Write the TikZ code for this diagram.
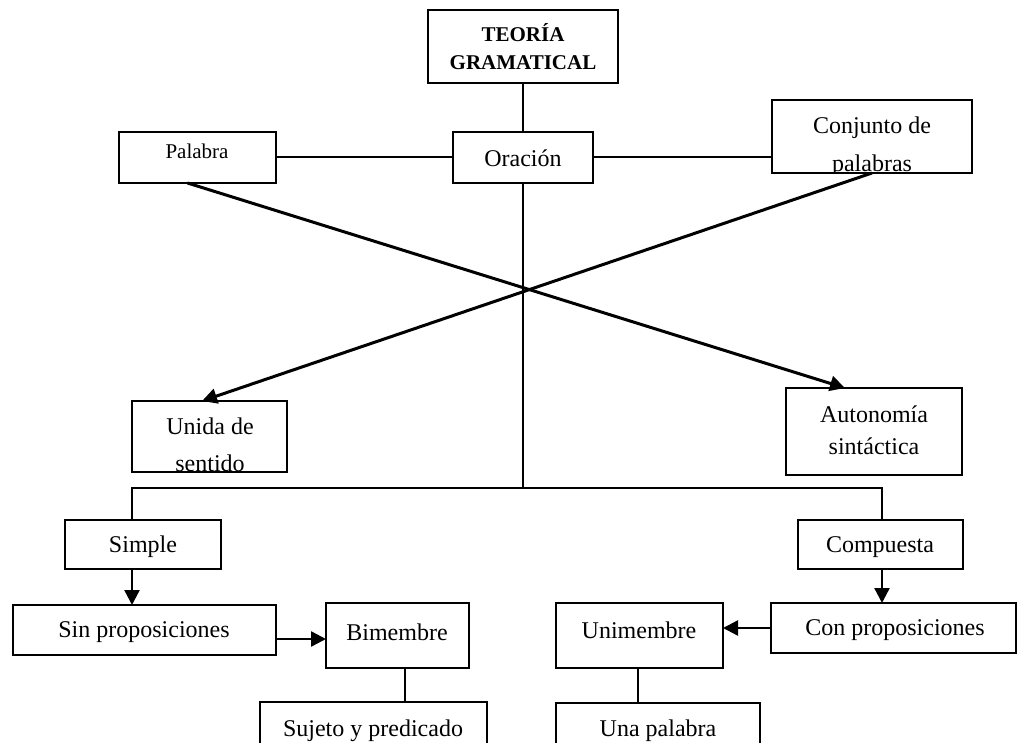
\documentclass[tikz,border=0pt]{standalone}
\usepackage{fontspec}
\setmainfont{Liberation Serif}
\usetikzlibrary{arrows.meta,calc}
\tikzset{
  boxshape/.style={draw, line width=2pt, rectangle, inner sep=0pt, outer sep=0pt},
  txt/.style={inner sep=0pt, font=\fontsize{24}{32}\selectfont, align=center},
  link/.style={line width=2pt},
  diag/.style={line width=3pt, -{Triangle[length=15pt,width=15pt]}},
  arr/.style={line width=2.4pt, -{Triangle[length=15pt,width=15pt]}},
}
\newcommand{\mybox}[5]{%
  \node[boxshape, minimum width={(#4)-(#2)}, minimum height={(#5)-(#3)}] (#1) at ({((#2)+(#4))/2},{((#3)+(#5))/2}) {};}
\begin{document}
\begin{tikzpicture}[x=1pt,y=-1pt]
\useasboundingbox (0,0) rectangle (1017,743);
\clip (0,0) rectangle (1017,743);
\fill[white] (0,0) rectangle (1017,743);

% boxes
\mybox{teo}{428}{10}{618}{83}
\mybox{ora}{453}{132}{593}{183}
\mybox{pal}{119}{132}{276}{183}
\mybox{con}{772}{100}{972}{173}
\mybox{uni}{132}{401}{287}{472}
\mybox{aut}{786}{388}{962}{475}
\mybox{sim}{65}{520}{221}{569}
\mybox{com}{798}{520}{963}{569}
\mybox{sin}{13}{605}{276}{655}
\mybox{bim}{326}{603}{469}{668}
\mybox{suj}{260}{702}{487}{790}
\mybox{unim}{556}{603}{723}{668}
\mybox{conp}{771}{603}{1016}{653}
\mybox{una}{556}{703}{760}{790}

% texts
\node[txt, font=\fontsize{21}{28}\selectfont\bfseries] (teot) at (teo.center) {TEORÍA\\GRAMATICAL};
\node[txt] (orat) at (523,158) {Oración};
\node[txt, font=\fontsize{21}{26}\selectfont] (palt) at (197,151) {Palabra};
\begin{scope}
  \clip (con.north west) rectangle (con.south east);
  \node[txt, font=\fontsize{24}{38}\selectfont, anchor=north] (cont) at (872,117) {Conjunto de\\palabras};
\end{scope}
\begin{scope}
  \clip (uni.north west) rectangle (uni.south east);
  \node[txt, font=\fontsize{24}{37}\selectfont, anchor=north] (unit) at (210,418) {Unida de\\sentido};
\end{scope}
\node[txt] (autt) at (874,430) {Autonomía\\sintáctica};
\node[txt] (simt) at (143,547) {Simple};
\node[txt] (comt) at (880,547) {Compuesta};
\node[txt] (sint) at (144,632) {Sin proposiciones};
\node[txt] (bimt) at (397,632) {Bimembre};
\node[txt] (sujt) at (373,731) {Sujeto y predicado};
\node[txt] (unimt) at (639,630) {Unimembre};
\node[txt] (conpt) at (895,630) {Con proposiciones};
\node[txt] (unat) at (658,731) {Una palabra};

% connectors
\coordinate (bar) at (523,488);
\coordinate (sl) at (132,488);
\coordinate (cr) at (882,488);
\draw[link] (teo.south) -- (ora.north);
\draw[link] (ora.west) -- (ora.west -| pal.east);
\draw[link] (ora.east) -- (ora.east -| con.west);
\draw[link] (ora.south) -- (bar);
\draw[link] (sl |- sim.north) -- (sl) -- (cr) -- (cr |- com.north);
\draw[arr] (sl |- sim.south) -- (sl |- sin.north);
\draw[arr] (cr |- com.south) -- (cr |- conp.north);
\draw[arr] ([yshift=-9pt]sin.east) -- ([yshift=-9pt]sin.east -| bim.west);
\draw[arr] (conp.west) -- (conp.west -| unim.east);
\draw[link] ([xshift=7pt]bim.south) -- ([xshift=7pt]bim.south |- suj.north);
\draw[link] ([xshift=-2pt]unim.south) -- ([xshift=-2pt]unim.south |- una.north);
\draw[diag] ([xshift=-10pt]pal.south) -- ([xshift=59pt]aut.north west);
\draw[diag] (con.south) -- ([xshift=70pt]uni.north west);
\end{tikzpicture}
\end{document}
